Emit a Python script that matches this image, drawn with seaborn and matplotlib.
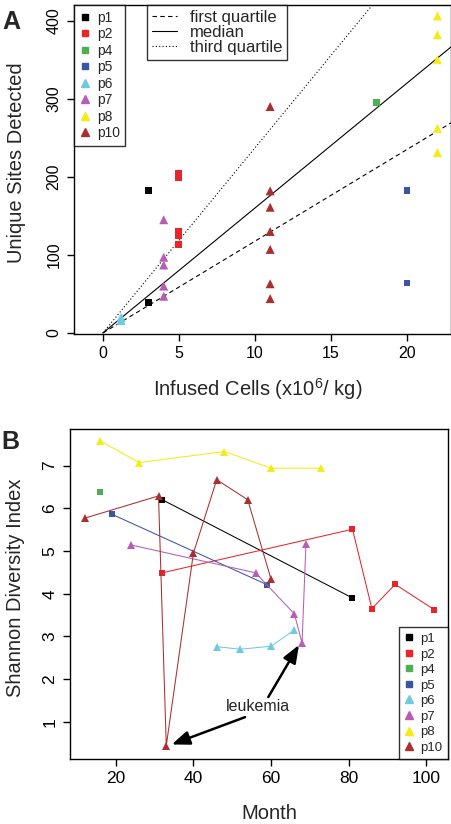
import numpy as np
import pandas as pd
import matplotlib
matplotlib.use('Agg')
import matplotlib.pyplot as plt
import seaborn as sns
from matplotlib.lines import Line2D

# ---- panel A : infused cells vs unique sites ----
patients = ['p1', 'p2', 'p4', 'p5', 'p6', 'p7', 'p8', 'p10']
colors = ['#000000', '#E8262A', '#4CB050', '#3C54A4', '#6ECBDC', '#B85CB5', '#F5EB17', '#A8302E']
shapes = ['s', 's', 's', 's', '^', '^', '^', '^']

cells_p1 = [3, 3]
sites_p1 = [183, 39]
cells_p2 = [5, 5, 5, 5, 5]
sites_p2 = [204, 199, 130, 125, 113]
cells_p4 = [18]
sites_p4 = [295]
cells_p5 = [20, 20]
sites_p5 = [183, 64]
cells_p6 = [1.2, 1.2]
sites_p6 = [20, 16]
cells_p7 = [4, 4, 4, 4, 4]
sites_p7 = [145, 97, 87, 60, 47]
cells_p8 = [22, 22, 22, 22, 22]
sites_p8 = [406, 382, 350, 262, 231]
cells_p10 = [11, 11, 11, 11, 11, 11, 11]
sites_p10 = [290, 182, 161, 130, 107, 63, 44]

quartile_names = ['first quartile', 'median', 'third quartile']
quartile_slopes = [11.75, 16.0, 23.7]
quartile_styles = [(0, (4, 3)), '-', (0, (1, 2))]

# ---- panel B : Shannon diversity over time ----
month_p1 = [32, 81]
shannon_p1 = [6.2, 3.9]
month_p2 = [32, 81, 86, 92, 102]
shannon_p2 = [4.49, 5.51, 3.65, 4.22, 3.63]
month_p4 = [16]
shannon_p4 = [6.39]
month_p5 = [19, 59]
shannon_p5 = [5.86, 4.21]
month_p6 = [46, 52, 60, 66]
shannon_p6 = [2.76, 2.70, 2.77, 3.15]
month_p7 = [24, 56, 66, 68, 69]
shannon_p7 = [5.14, 4.49, 3.53, 2.85, 5.16]
month_p8 = [16, 26, 48, 60, 73]
shannon_p8 = [7.58, 7.07, 7.33, 6.94, 6.94]
month_p10 = [12, 31, 33, 40, 46, 54, 60]
shannon_p10 = [5.77, 6.29, 0.44, 4.95, 6.67, 6.2, 4.34]

cells = [cells_p1, cells_p2, cells_p4, cells_p5, cells_p6, cells_p7, cells_p8, cells_p10]
sites = [sites_p1, sites_p2, sites_p4, sites_p5, sites_p6, sites_p7, sites_p8, sites_p10]
months = [month_p1, month_p2, month_p4, month_p5, month_p6, month_p7, month_p8, month_p10]
shannon = [shannon_p1, shannon_p2, shannon_p4, shannon_p5, shannon_p6, shannon_p7, shannon_p8, shannon_p10]

df_a = pd.concat([pd.DataFrame({'patient': p, 'cells': x, 'sites': y})
                  for p, x, y in zip(patients, cells, sites)], ignore_index=True)
df_b = pd.concat([pd.DataFrame({'patient': p, 'month': x, 'shannon': y})
                  for p, x, y in zip(patients, months, shannon)], ignore_index=True)

palette = dict(zip(patients, colors))
marker_map = dict(zip(patients, shapes))

sns.set_theme(style='ticks')
plt.rcParams['font.family'] = ['Liberation Sans', 'DejaVu Sans']
plt.rcParams['mathtext.default'] = 'regular'
plt.rcParams['axes.linewidth'] = 1.0
plt.rcParams['axes.edgecolor'] = 'black'
plt.rcParams['xtick.color'] = 'black'
plt.rcParams['ytick.color'] = 'black'

fig = plt.figure(figsize=(4.52, 8.24), dpi=100)
ax_a = fig.add_axes([0.1637, 0.5947, 0.998 - 0.1637, 0.9939 - 0.5947])
ax_b = fig.add_axes([0.155, 0.0789, 0.991 - 0.155, 0.479 - 0.0789])

# panel A
for sl, ls in zip(quartile_slopes, quartile_styles):
    ax_a.plot([0, 23], [0, 23 * sl], color='black', lw=0.8, ls=ls, zorder=1)

is_square = df_a['patient'].map(marker_map) == 's'
sns.scatterplot(data=df_a[is_square], x='cells', y='sites', hue='patient', palette=palette,
                marker='s', s=25, linewidth=0, legend=False, ax=ax_a, zorder=3)
sns.scatterplot(data=df_a[~is_square], x='cells', y='sites', hue='patient', palette=palette,
                marker='^', s=42, linewidth=0, legend=False, ax=ax_a, zorder=3)

ax_a.set_xlim(-1.9, 22.9)
ax_a.set_ylim(-1.3, 420)
ax_a.set_xticks([0, 5, 10, 15, 20])
ax_a.set_yticks([0, 100, 200, 300, 400])
ax_a.set_xlabel('Infused Cells (x10$^6$/ kg)', fontsize=14.5)
ax_a.set_ylabel('Unique Sites Detected', fontsize=14.5)
ax_a.xaxis.set_label_coords(0.488, -0.128)
ax_a.yaxis.set_label_coords(-0.127, 0.52)


def point_handles():
    return [Line2D([], [], ls='', marker=m, color=c, markersize=4 if m == 's' else 5.5)
            for m, c in zip(shapes, colors)]


leg_kw = dict(borderaxespad=0, frameon=True, fancybox=False, edgecolor='black',
              handlelength=0.8, handletextpad=0.45, borderpad=0.4)
leg1 = ax_a.legend(point_handles(), patients, loc='upper left', bbox_to_anchor=(0, 1),
                   fontsize=10, labelspacing=0.18, **leg_kw)
leg1.get_frame().set_linewidth(1.0)
ax_a.add_artist(leg1)
ln_handles = [Line2D([], [], color='black', lw=0.8, ls=ls) for ls in quartile_styles]
leg2 = ax_a.legend(ln_handles, quartile_names, loc='upper left', bbox_to_anchor=(0.194, 1),
                   borderaxespad=0, fontsize=12, frameon=True, fancybox=False,
                   edgecolor='black', labelspacing=0.0, handlelength=1.5,
                   handletextpad=0.75, borderpad=0.3)
leg2.get_frame().set_linewidth(1.0)

# panel B
sq_b = df_b[df_b['patient'].map(marker_map) == 's']
tr_b = df_b[df_b['patient'].map(marker_map) == '^']
sns.lineplot(data=sq_b, x='month', y='shannon', hue='patient', style='patient',
             palette=palette, markers=marker_map, dashes=False, sort=False,
             estimator=None, lw=0.75, markersize=4.6, markeredgewidth=0,
             legend=False, ax=ax_b)
sns.lineplot(data=tr_b, x='month', y='shannon', hue='patient', style='patient',
             palette=palette, markers=marker_map, dashes=False, sort=False,
             estimator=None, lw=0.75, markersize=6, markeredgewidth=0,
             legend=False, ax=ax_b)

ax_b.set_xlim(8.2, 105.6)
ax_b.set_ylim(0.13, 7.85)
ax_b.set_xticks([20, 40, 60, 80, 100])
ax_b.set_yticks([1, 2, 3, 4, 5, 6, 7])
ax_b.set_xlabel('Month', fontsize=14.5)
ax_b.set_ylabel('Shannon Diversity Index', fontsize=14.5)
ax_b.xaxis.set_label_coords(0.528, -0.138)
ax_b.yaxis.set_label_coords(-0.12, 0.52)

leg3 = ax_b.legend(point_handles(), patients, loc='lower right', fontsize=9.5,
                   labelspacing=0.25, **leg_kw)
leg3.get_frame().set_linewidth(1.0)

ax_b.text(56.7, 1.37, 'leukemia', fontsize=11.5, ha='center', va='center')
arrow = dict(arrowstyle='-|>,head_length=0.9,head_width=0.35', color='black', lw=1.8,
             shrinkA=0, shrinkB=0)
ax_b.annotate('', xy=(34.4, 0.47), xytext=(53.3, 1.11), arrowprops=arrow)
ax_b.annotate('', xy=(67.2, 2.8), xytext=(59.3, 1.58), arrowprops=arrow)

for ax, tsize in ((ax_a, 11.5), (ax_b, 12.5)):
    ax.tick_params(axis='both', labelsize=tsize, width=1, length=5, pad=4, direction='out')
    for lab in ax.get_yticklabels():
        lab.set_rotation(90)
        lab.set_va('center')
    for sp in ax.spines.values():
        sp.set_visible(True)
        sp.set_color('black')

fig.text(0.005, 0.988, 'A', fontsize=18, fontweight='bold', va='top', ha='left')
fig.text(0.004, 0.478, 'B', fontsize=18, fontweight='bold', va='top', ha='left')

fig.savefig('out.png', dpi=100)
